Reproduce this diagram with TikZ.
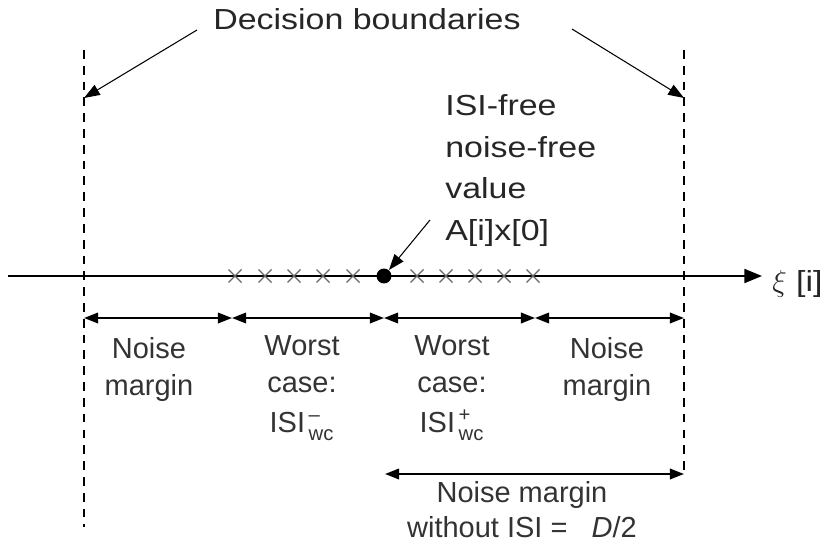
\documentclass[tikz,border=0pt]{standalone}
\usepackage{fontspec}
\setmainfont{Liberation Sans}
\newfontfamily\widefont[FakeStretch=1.17]{Liberation Sans}
\usepackage{amsmath}
\usetikzlibrary{arrows.meta}

\tikzset{
  tip/.style={-{Triangle[length=9pt,width=6.5pt]}, line width=0.6pt},
  dim/.style={{Triangle[length=8pt,width=6pt]}-{Triangle[length=8pt,width=6pt]}, line width=1pt},
  boundary/.style={line width=0.8pt, dash pattern=on 5pt off 4pt},
  lbl/.style={font=\fontsize{16.5}{21}\selectfont, align=center, text=black!80, inner sep=0pt},
  toplbl/.style={font=\widefont\fontsize{16.5}{23.8}\selectfont, text=black!85, inner sep=0pt},
  isi/.style={black!60, line width=0.7pt},
}

\begin{document}
\begin{tikzpicture}[x=0.02cm, y=-0.02cm]
  \useasboundingbox (0,0) rectangle (829,544);

  % decision boundaries
  \draw[boundary] (84,50) -- (84,527);
  \draw[boundary] (684,50) -- (684,474);
  \coordinate (bndL) at (84,98);
  \coordinate (bndR) at (684,98);

  \node[toplbl, anchor=north] (dec) at (367,8) {Decision boundaries};
  \coordinate (decL) at (197,30);
  \coordinate (decR) at (572,29);
  \draw[tip] (decL) -- (bndL);
  \draw[tip] (decR) -- (bndR);

  % xi axis
  \coordinate (axS) at (8,276);
  \coordinate (axE) at (762,276);
  \draw[-{Triangle[length=10pt,width=8pt]}, line width=0.8pt] (axS) -- (axE);
  \node[toplbl, anchor=base west] (xi) at (772,291) {$\xi$ [i]};

  % ISI spread
  \foreach \x in {235,265,294,323,353,417,446,475,504,533}
    \draw[isi] (\x-6.5,269.5) -- (\x+6.5,282.5) (\x-6.5,282.5) -- (\x+6.5,269.5);
  \node[circle, fill, inner sep=0pt, minimum size=8.5pt] (dot) at (384,276) {};

  \node[toplbl, align=left, anchor=north west] (val) at (445,94)
    {ISI-free\\noise-free\\value\\A[i]x[0]};
  \coordinate (valS) at (430,220);
  \draw[tip] (valS) -- (dot);

  % margins
  \coordinate (m0) at (84,318);
  \coordinate (m1) at (232,318);
  \coordinate (m2) at (384,318);
  \coordinate (m3) at (535,318);
  \coordinate (m4) at (684,318);
  \draw[dim] (m0) -- (m1);
  \draw[dim] (m1) -- (m2);
  \draw[dim] (m2) -- (m3);
  \draw[dim] (m3) -- (m4);

  \node[lbl, anchor=north] (nmL) at (149,337) {Noise\\margin};
  \node[lbl, anchor=north] (wcL) at (302,335) {Worst\\case:\\[2pt]ISI$^{\,\text{--}}_{\,\text{wc}}$};
  \node[lbl, anchor=north] (wcR) at (452,335) {Worst\\case:\\[2pt]ISI$^{\,\text{+}}_{\,\text{wc}}$};
  \node[lbl, anchor=north] (nmR) at (607,337) {Noise\\margin};

  % margin without ISI
  \coordinate (h0) at (385,474);
  \coordinate (h1) at (684,474);
  \draw[dim] (h0) -- (h1);
  \node[lbl, anchor=north, font=\fontsize{16.5}{20}\selectfont] (half) at (522,481)
    {Noise margin\\without ISI = \ \ \textit{D}/2};
\end{tikzpicture}
\end{document}
